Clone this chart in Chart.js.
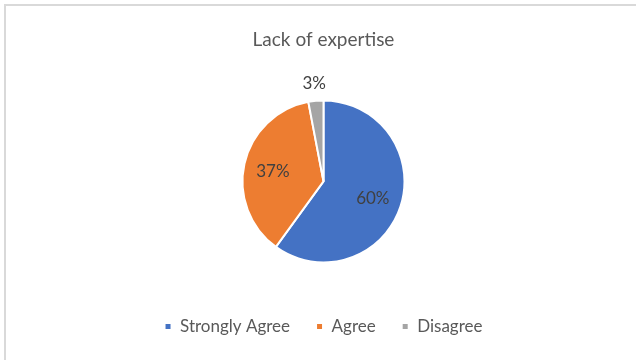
<!DOCTYPE html>
<html>
<head>
<meta charset="utf-8">
<script src="https://cdn.jsdelivr.net/npm/chart.js@4.4.0/dist/chart.umd.min.js"></script>
<style>
  html, body { margin: 0; padding: 0; background: #fff; overflow: hidden; }
  #wrap { position: relative; width: 636px; height: 360px; overflow: hidden; }
  #frame { position: absolute; left: 4px; top: 4px; width: 700px; height: 400px; border: 2px solid #d9d9d9; }
  canvas { position: absolute; left: 0; top: 0; }
</style>
</head>
<body>
<div id="wrap">
  <div id="frame"></div>
  <canvas id="myChart" width="636" height="360"></canvas>
</div>
<script>
const ctx = document.getElementById('myChart').getContext('2d');

const categories = ['Strongly Agree', 'Agree', 'Disagree'];
const percents = [60, 37, 3];
const sliceColors = ['#4472C4', '#ED7D31', '#A5A5A5'];

// percent labels: inside the big slices, just outside the rim for tiny ones
const pieLabels = {
    id: 'pieLabels',
    afterDatasetsDraw(chart) {
        const c = chart.ctx;
        const arcs = chart.getDatasetMeta(0).data;
        c.save();
        c.font = '17px Lato';
        c.fillStyle = '#404040';
        c.textAlign = 'center';
        c.textBaseline = 'middle';
        arcs.forEach((arc, i) => {
            const p = arc.getProps(['x', 'y', 'startAngle', 'endAngle', 'outerRadius'], true);
            const mid = (p.startAngle + p.endAngle) / 2;
            const r = percents[i] < 10 ? p.outerRadius + 18 : p.outerRadius * 0.64;
            c.fillText(percents[i] + '%', p.x + Math.cos(mid) * r, p.y + Math.sin(mid) * r + 1);
        });
        c.restore();
    }
};

const myChart = new Chart(ctx, {
    type: 'pie',
    data: {
        labels: categories,
        datasets: [
            {
                data: percents,
                backgroundColor: sliceColors,
                borderColor: '#ffffff',
                borderWidth: 2,
                radius: 81
            }
        ]
    },
    options: {
        responsive: false,
        animation: false,
        layout: {
            padding: { left: 11, right: 0, top: 0, bottom: 15 }
        },
        plugins: {
            title: {
                display: true,
                text: 'Lack of expertise',
                color: '#595959',
                font: { family: 'Lato', size: 19, weight: 'normal' },
                padding: { top: 28, bottom: 20 }
            },
            legend: {
                position: 'bottom',
                labels: {
                    boxWidth: 7,
                    boxHeight: 7,
                    padding: 26,
                    color: '#595959',
                    font: { family: 'Lato', size: 17 }
                }
            },
            tooltip: { enabled: false }
        }
    },
    plugins: [pieLabels]
});
</script>
</body>
</html>
